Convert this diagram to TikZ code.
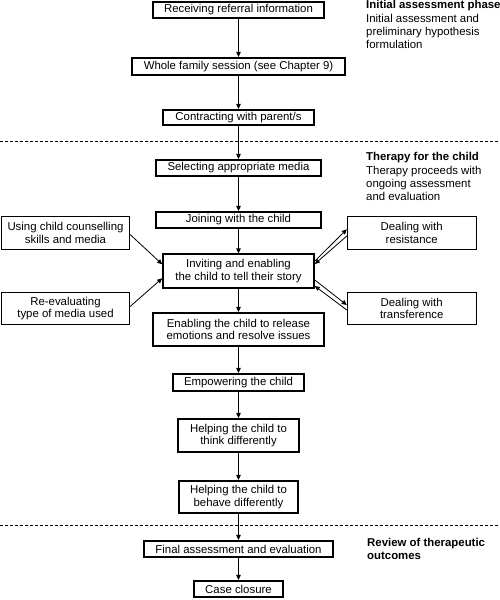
\documentclass[tikz,border=0pt]{standalone}
\usepackage{fontspec}
\setmainfont{Liberation Sans}
\usetikzlibrary{arrows.meta,calc}
\begin{document}
\begin{tikzpicture}[x=1pt,y=-1pt,
  every node/.style={font=\fontsize{11.4}{12.5}\selectfont, inner sep=0pt},
  mainbox/.style={draw, line width=1.6pt, align=center},
  sidebox/.style={draw, line width=0.8pt, align=center},
  lbl/.style={align=left, anchor=north west, font=\fontsize{11.4}{13.2}\selectfont},
  arr/.style={line width=0.8pt, -{Triangle[length=5pt,width=4.5pt]}},
  divider/.style={line width=0.8pt, dash pattern=on 3pt off 2pt}]
\useasboundingbox (0,0) rectangle (500,600);
% dividers
\draw[divider] (0,141) -- (500,141);
\draw[divider] (0,525) -- (500,525);
% main column
\node[mainbox, minimum width=171.5, minimum height=16.5] (n1) at (238.5,10) {Receiving referral information};
\node[mainbox, minimum width=212.5, minimum height=17.5] (n2) at (238.5,66.5) {Whole family session (see Chapter 9)};
\node[mainbox, minimum width=151.5, minimum height=15.5] (n3) at (238.5,117.5) {Contracting with parent/s};
\node[mainbox, minimum width=165.5, minimum height=16.5] (n4) at (238.5,168) {Selecting appropriate media};
\node[mainbox, minimum width=165.5, minimum height=16.5] (n5) at (238.5,220) {Joining with the child};
\node[mainbox, minimum width=151, minimum height=33.5] (n6) at (238.5,271) {Inviting and enabling\\the child to tell their story};
\node[mainbox, minimum width=171.5, minimum height=33.5] (n7) at (238.5,329.5) {Enabling the child to release\\emotions and resolve issues};
\node[mainbox, minimum width=130.5, minimum height=17.5] (n8) at (238.5,382.5) {Empowering the child};
\node[mainbox, minimum width=120.5, minimum height=33.5] (n9) at (238.5,435.5) {Helping the child to\\think differently};
\node[mainbox, minimum width=119.5, minimum height=32.5] (n10) at (238.5,497) {Helping the child to\\behave differently};
\node[mainbox, minimum width=189.5, minimum height=16.5] (n11) at (238.5,549) {Final assessment and evaluation};
\node[mainbox, minimum width=89.5, minimum height=16.5] (n12) at (238.5,589) {Case closure};
% side boxes
\node[sidebox, minimum width=128, minimum height=33] (l1) at (65.5,233) {Using child counselling\\skills and media};
\node[sidebox, minimum width=128, minimum height=32] (l2) at (65.5,308.5) {Re-evaluating\\type of media used};
\node[sidebox, minimum width=129, minimum height=33] (r1) at (411.7,233) {Dealing with\\resistance};
\node[sidebox, minimum width=129, minimum height=32] (r2) at (411.7,308.5) {Dealing with\\transference};
% phase labels
\node[lbl] (t1) at (366,0.5) {\textbf{Initial assessment phase}\\Initial assessment and\\preliminary hypothesis\\formulation};
\node[lbl] (t2) at (366,152.5) {\textbf{Therapy for the child}\\Therapy proceeds with\\ongoing assessment\\and evaluation};
\node[lbl] (t3) at (367,538.3) {\textbf{Review of therapeutic}\\\textbf{outcomes}};
% vertical arrows
\foreach \a/\b in {n1/n2,n2/n3,n3/n4,n4/n5,n5/n6,n6/n7,n7/n8,n8/n9,n9/n10,n10/n11,n11/n12}
  \draw[arr] (\a.south) -- (\b.north);
% side arrows
\draw[arr] ($(l1.east)+(0,1.3)$) -- ($(n6.west)+(0,-6.7)$);
\draw[arr] ($(l2.east)+(0,-1.8)$) -- ($(n6.west)+(0,7.3)$);
\draw[arr] ($(n6.east)+(0,-10)$) -- ($(r1.west)+(0,-3.7)$);
\draw[arr] ($(r1.west)+(0,3)$) -- ($(n6.east)+(0,-7)$);
\draw[arr] ($(n6.east)+(0,9)$) -- ($(r2.west)+(0,-3.5)$);
\draw[arr] ($(r2.west)+(0,1.5)$) -- ($(n6.east)+(0,15)$);
\end{tikzpicture}
\end{document}
